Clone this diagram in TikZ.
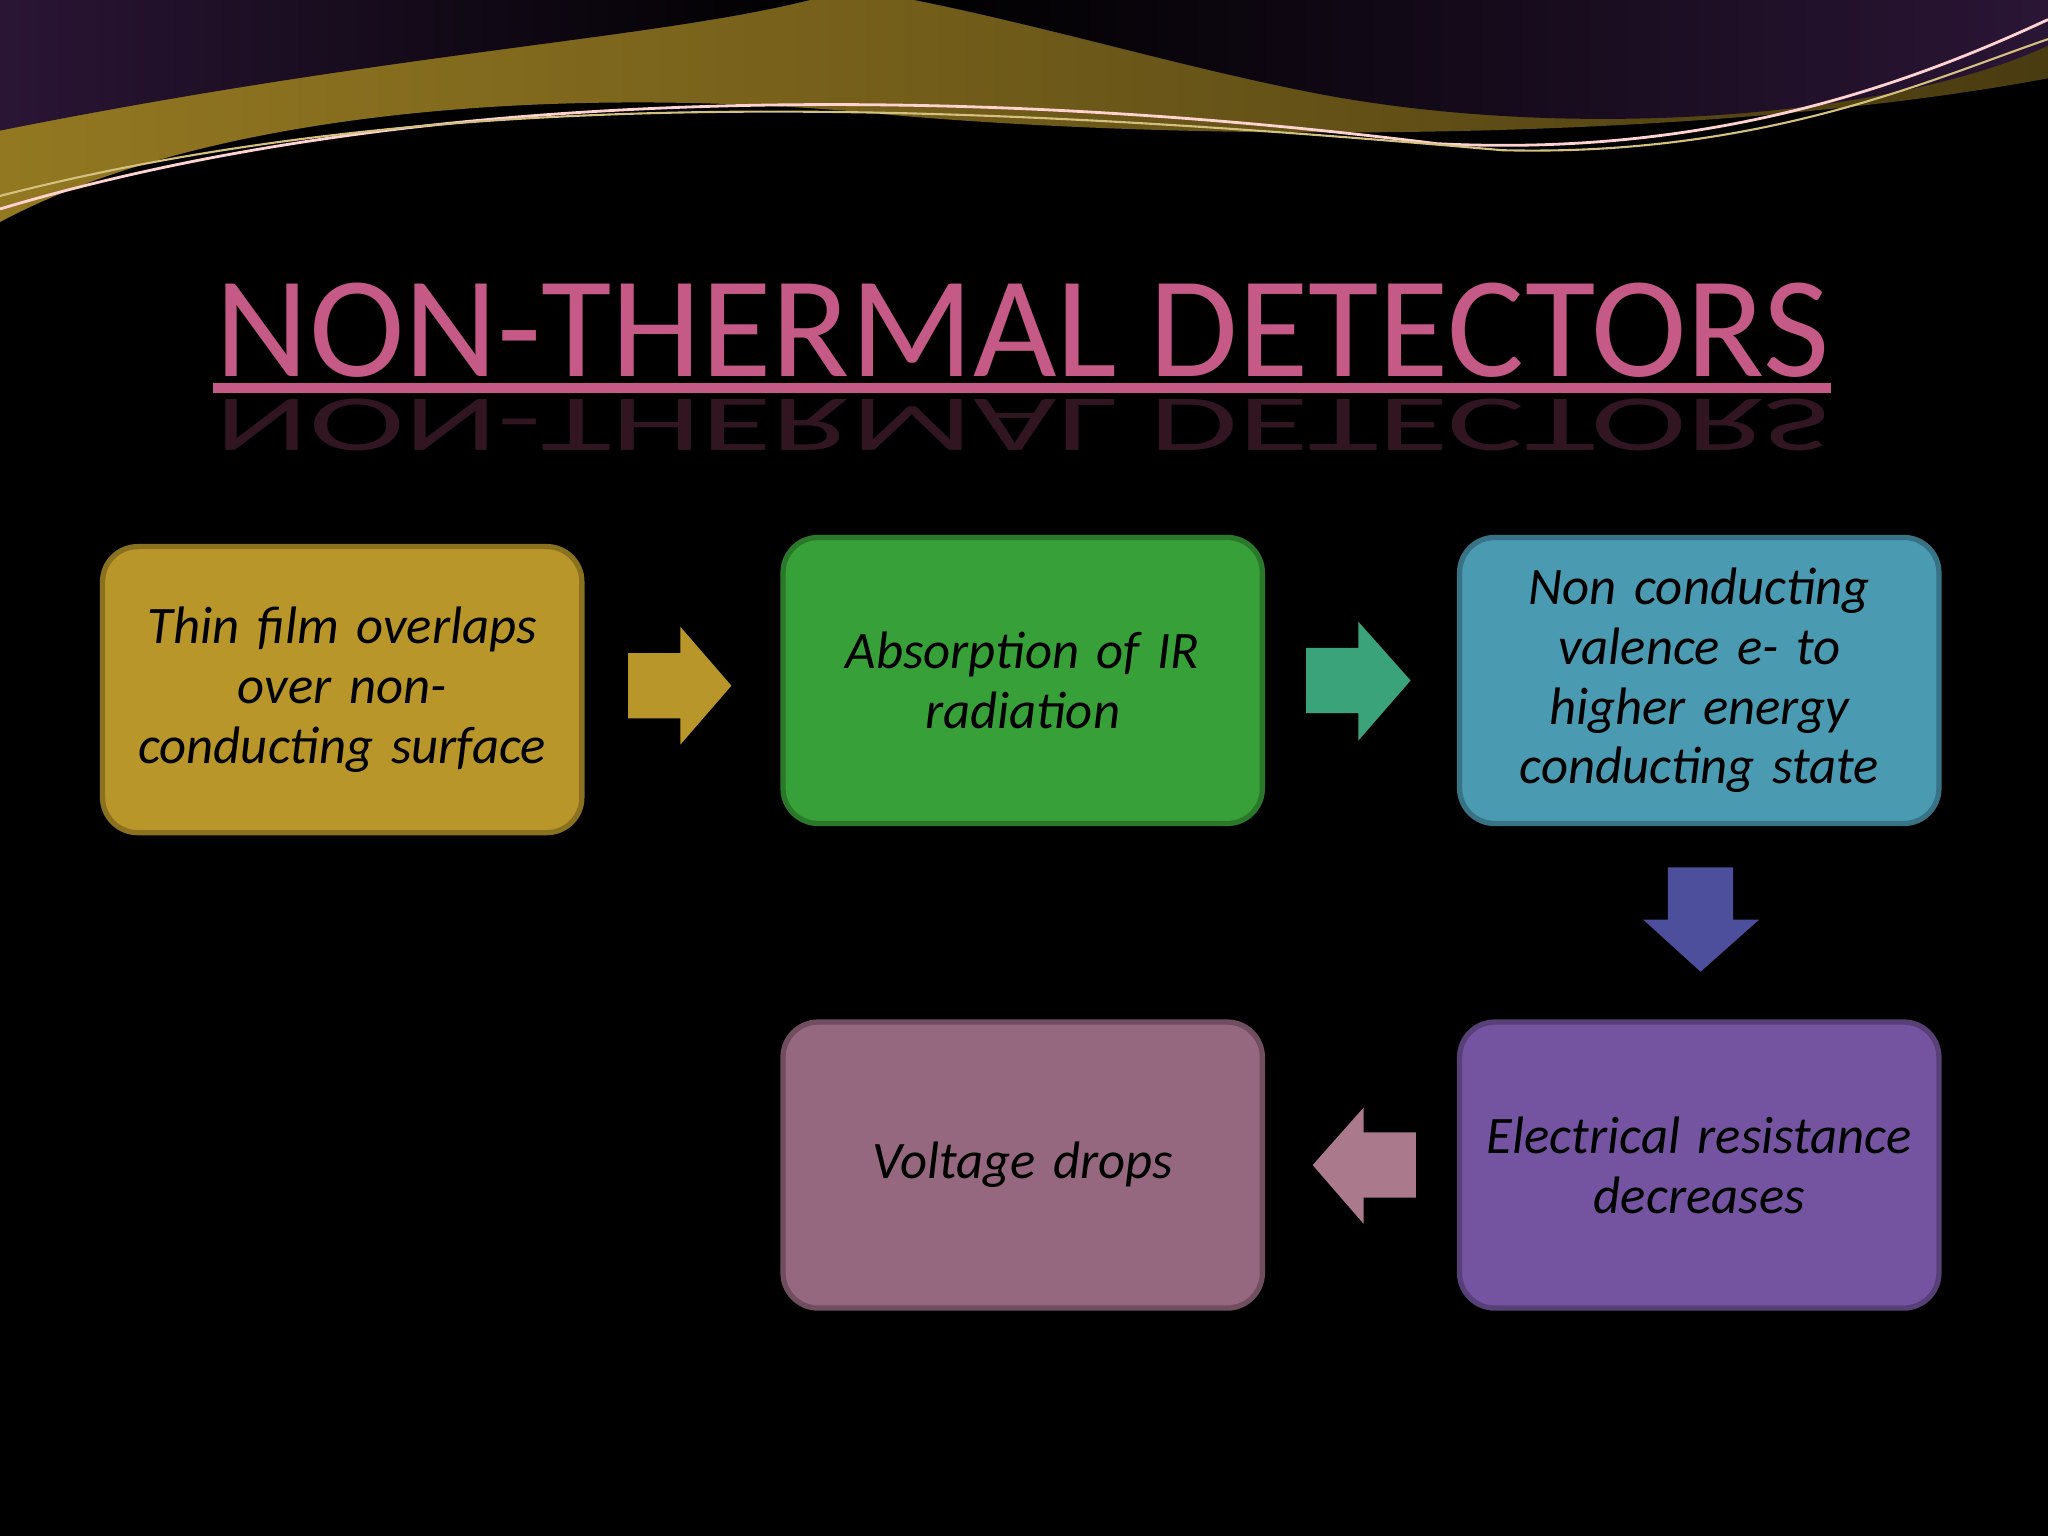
\documentclass[tikz,border=0pt]{standalone}
\usepackage{fontspec}
\setmainfont{Carlito}
\usetikzlibrary{shadings}
\definecolor{gold}{HTML}{B8962A}
\definecolor{grn}{HTML}{38A038}
\definecolor{blu}{HTML}{4A9AB2}
\definecolor{pur}{HTML}{7454A0}
\definecolor{mau}{HTML}{95687F}
\definecolor{ttl}{HTML}{C45A85}
\definecolor{dpur}{HTML}{2A1535}
\definecolor{tealarr}{HTML}{3AA37A}
\definecolor{downarr}{HTML}{4E4F9C}
\hyphenpenalty=10000
\begin{document}
\begin{tikzpicture}[x=0.013061cm,y=-0.013061cm,
  box/.style={draw=#1!75!black,line width=1.5pt,fill=#1,rounded corners=10pt,minimum width=367*0.013061cm,minimum height=219*0.013061cm,text width=350*0.013061cm,align=center,font=\fontsize{15}{17}\selectfont\itshape,inner sep=0pt}]
\useasboundingbox (0,0) rectangle (1568,1176);
\fill[black] (0,0) rectangle (1568,1176);
% top wave decoration
\shade[left color=gold!80!black,right color=black!60!gold] (0,0) -- (1568,0) -- (1568,60) .. controls (1300,110) and (900,110) .. (650,85) .. controls (400,65) and (150,90) .. (0,170) -- cycle;
\shade[left color=black,right color=dpur] (700,0) -- (1568,0) -- (1568,35) .. controls (1450,90) and (1200,110) .. (1000,70) .. controls (900,50) and (800,20) .. (700,0) -- cycle;
\shade[left color=dpur,right color=black] (0,0) -- (620,0) .. controls (500,30) and (300,40) .. (0,100) -- cycle;
\draw[pink!70!white,line width=0.8pt] (0,160) .. controls (300,70) and (700,60) .. (1100,110) .. controls (1300,120) and (1450,70) .. (1568,15);
\draw[gold!60!white,line width=0.6pt] (0,150) .. controls (350,60) and (750,80) .. (1150,115) .. controls (1350,120) and (1480,60) .. (1568,30);
% title
\node (title) at (783,253) {\textcolor{ttl}{\fontsize{41}{44}\selectfont NON-THERMAL DETECTORS}};
\draw[ttl,line width=3pt] (163,297) -- (1402,297);
\node[opacity=0.25,yscale=-0.55] (refl) at (783,325) {\textcolor{ttl}{\fontsize{41}{44}\selectfont NON-THERMAL DETECTORS}};
% boxes
\node[box=gold] (b1) at (262,528) {Thin film overlaps over non-\\conducting surface};
\node[box=grn] (b2) at (783,521) {Absorption of IR\\radiation};
\node[box=blu] (b3) at (1301,521) {Non conducting valence e- to higher energy conducting state};
\node[box=pur] (b4) at (1301,892) {Electrical resistance decreases};
\node[box=mau] (b5) at (783,892) {Voltage drops};
% arrows
\fill[gold] (481,500) -- (521,500) -- (521,480) -- (560,525) -- (521,570) -- (521,550) -- (481,550) -- cycle;
\fill[tealarr] (1000,496) -- (1040,496) -- (1040,476) -- (1080,521) -- (1040,567) -- (1040,546) -- (1000,546) -- cycle;
\fill[downarr] (1277,664) -- (1327,664) -- (1327,704) -- (1347,704) -- (1302,744) -- (1258,704) -- (1277,704) -- cycle;
\fill[mau!80!pink] (1084,867) -- (1044,867) -- (1044,848) -- (1005,892) -- (1044,937) -- (1044,917) -- (1084,917) -- cycle;
\end{tikzpicture}
\end{document}
